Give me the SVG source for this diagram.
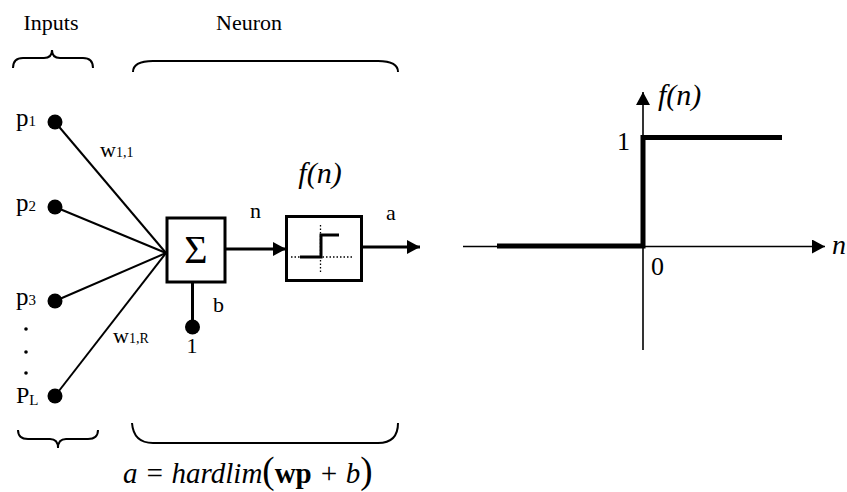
<svg xmlns="http://www.w3.org/2000/svg" width="847" height="492" viewBox="0 0 847 492">
<style>
.t{font-family:"Liberation Serif","Times New Roman",serif;fill:#000}
.it{font-style:italic}
.ln{stroke:#000;fill:none}
</style>
<defs>
<marker id="ah" markerWidth="14" markerHeight="14" refX="13" refY="7" orient="auto" markerUnits="userSpaceOnUse">
<path d="M0,0 L13,7 L0,14 Z" fill="#000"/>
</marker>
</defs>
<rect width="847" height="492" fill="#fff"/>
<g id="labels">
<text class="t" x="51" y="30" font-size="22" text-anchor="middle">Inputs</text>
<text class="t" x="249" y="30" font-size="22" text-anchor="middle">Neuron</text>
</g>
<g id="braces" class="ln" stroke-width="2">
<path d="M13,68 Q13,58 23,58 L44,58 Q52,58 52,50 Q52,58 60,58 L83,58 Q93,58 93,68"/>
<path d="M133,72 C133,64 140,61 153,61 L378,61 C391,61 398,64 398,72"/>
<path d="M18,430 Q18,439 28,439 L50,439 Q58,439 58,448 Q58,439 66,439 L88,439 Q98,439 98,430"/>
<path d="M132,423 C133,436 140,443 153,443 L378,443 C391,443 398,436 398,423"/>
</g>
<g id="connectors" class="ln">
<line x1="55" y1="122" x2="166" y2="253" stroke-width="2"/>
<line x1="55" y1="207" x2="166" y2="253" stroke-width="2"/>
<line x1="55" y1="301" x2="166" y2="253" stroke-width="2"/>
<line x1="55" y1="396" x2="166" y2="253" stroke-width="2"/>
<line x1="226" y1="249" x2="286" y2="249" stroke-width="3" marker-end="url(#ah)"/>
<line x1="362" y1="247" x2="420" y2="247" stroke-width="3" marker-end="url(#ah)"/>
<line x1="192.5" y1="282" x2="192.5" y2="327" stroke-width="3"/>
</g>
<g id="p1">
<circle cx="55" cy="122" r="7.5"/>
<text class="t" x="16" y="126" font-size="25">p<tspan font-size="15">1</tspan></text>
</g>
<g id="p2">
<circle cx="55" cy="207" r="7.5"/>
<text class="t" x="16" y="211" font-size="25">p<tspan font-size="15">2</tspan></text>
</g>
<g id="p3">
<circle cx="55" cy="301" r="7.5"/>
<text class="t" x="16" y="305" font-size="25">p<tspan font-size="15">3</tspan></text>
</g>
<g id="ellipsis">
<circle cx="26" cy="329" r="1.8"/>
<circle cx="26" cy="352" r="1.8"/>
<circle cx="26" cy="373" r="1.8"/>
</g>
<g id="pL">
<circle cx="55" cy="396" r="7.5"/>
<text class="t" x="16" y="403" font-size="24">P<tspan font-size="15" dy="2">L</tspan></text>
</g>
<g id="weights">
<text class="t" x="100" y="157" font-size="22">w<tspan font-size="14">1,1</tspan></text>
<text class="t" x="113" y="343" font-size="22">w<tspan font-size="14">1,R</tspan></text>
</g>
<g id="sum">
<rect x="167" y="218" width="58" height="64" fill="#fff" stroke="#000" stroke-width="3"/>
<text class="t" x="196" y="263" font-size="40" text-anchor="middle">Σ</text>
<text class="t" x="250" y="218" font-size="22">n</text>
</g>
<g id="bias">
<circle cx="192.5" cy="327" r="7.5"/>
<text class="t" x="213" y="312" font-size="22">b</text>
<text class="t" x="192" y="353" font-size="22" text-anchor="middle">1</text>
</g>
<g id="transfer">
<text class="t it" x="320" y="183" font-size="30" text-anchor="middle">f(n)</text>
<rect x="286.5" y="216.5" width="75" height="64" fill="#fff" stroke="#000" stroke-width="3"/>
<line x1="320.5" y1="225" x2="320.5" y2="272" stroke="#000" stroke-width="1.3" stroke-dasharray="1.5,2"/>
<line x1="291" y1="257" x2="353" y2="257" stroke="#000" stroke-width="1.3" stroke-dasharray="1.5,2"/>
<path d="M300,257 H321 V235 H339" class="ln" stroke-width="3"/>
<text class="t" x="386" y="220" font-size="22">a</text>
</g>
<g id="formula">
<text class="t it" x="123" y="483" font-size="29">a = hardlim<tspan font-style="normal" font-size="37">(</tspan><tspan font-style="normal" font-weight="bold">wp</tspan> + b<tspan font-style="normal" font-size="37">)</tspan></text>
</g>
<g id="graph">
<line x1="643" y1="350" x2="643" y2="92" class="ln" stroke-width="1.6" marker-end="url(#ah)"/>
<line x1="463" y1="246.5" x2="825" y2="246.5" class="ln" stroke-width="1.6" marker-end="url(#ah)"/>
<path d="M497,246 H643 V137.5 H782" class="ln" stroke-width="5"/>
<text class="t it" x="658" y="105" font-size="30">f(n)</text>
<text class="t" x="617" y="150" font-size="26">1</text>
<text class="t" x="651" y="275" font-size="26">0</text>
<text class="t it" x="832" y="254" font-size="28">n</text>
</g>
</svg>
